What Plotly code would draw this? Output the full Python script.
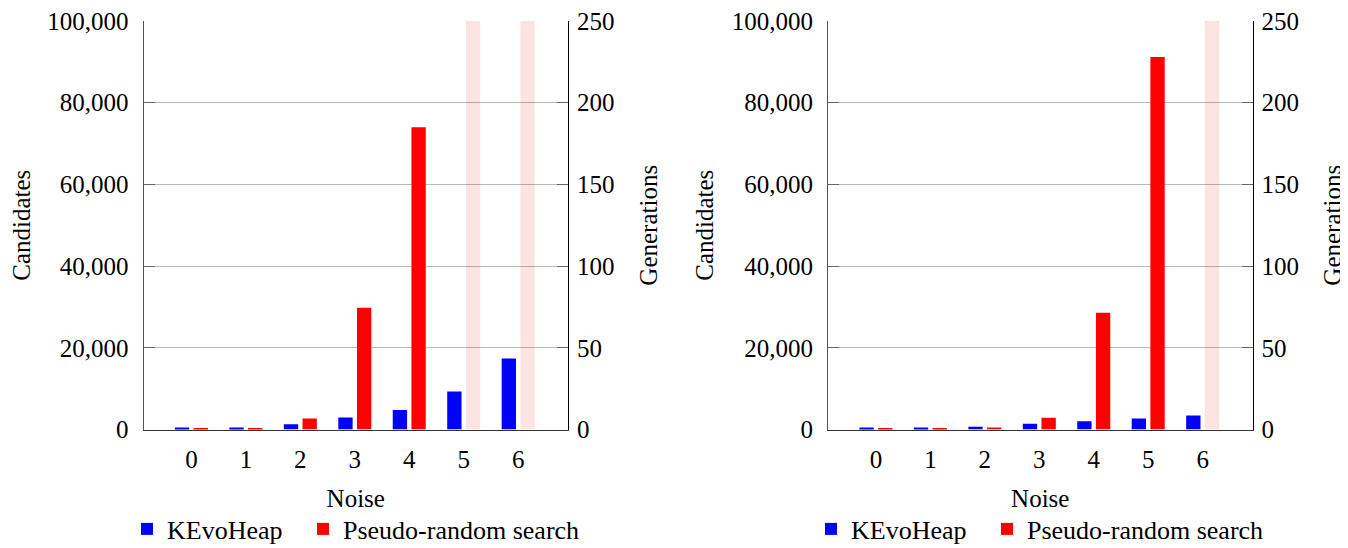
import plotly.graph_objects as go

# ---------------- data ----------------
noise = [0, 1, 2, 3, 4, 5, 6]
noise_labels = ["0", "1", "2", "3", "4", "5", "6"]

# left panel
kevo_generations_a = [1.2, 1.2, 3.2, 7.3, 12.0, 23.2, 43.4]
prs_candidates_a = [300, 300, 2700, 29800, 74000, None, None]
# right panel
kevo_generations_b = [1.2, 1.2, 1.65, 3.5, 5.1, 6.7, 8.6]
prs_candidates_b = [250, 250, 500, 2900, 28600, 91200, None]

cand_max = 100000
gen_max = 250
cand_ticks = [0, 20000, 40000, 60000, 80000, 100000]
gen_ticks = [0, 50, 100, 150, 200, 250]

series_names = ["KEvoHeap", "Pseudo-random search"]

# ---------------- style ----------------
FONT = "Liberation Serif, Times New Roman, DejaVu Serif, serif"
FS = 25
BLUE = "#0000ff"
RED = "#ff0000"
BAND = "rgba(245,0,0,0.11)"
BAR_W = 0.263
BLUE_OFF = -0.303
RED_OFF = 0.040

# page body has an 8px margin; the figure starts at (8, 8)
PAD = 8
W, H = 1340, 540

def px_x(v):
    return (v - PAD) / W

def px_y(v):
    return (H - (v - PAD)) / H

dom1 = [px_x(143.5), px_x(568.0)]
dom2 = [px_x(828.0), px_x(1252.5)]
ydom = [px_y(429.5), px_y(21.0)]

fig = go.Figure()

panels = [
    (kevo_generations_a, prs_candidates_a, "x", "y", "y2", "legend", "legend2"),
    (kevo_generations_b, prs_candidates_b, "x2", "y3", "y4", "legend3", "legend4"),
]

for kevo, prs, xa, ya_c, ya_g, lg_k, lg_p in panels:
    # timeout bands where pseudo-random search has no result
    band_x = [n for n, v in zip(noise, prs) if v is None]
    fig.add_trace(go.Bar(
        x=band_x, y=[cand_max] * len(band_x), xaxis=xa, yaxis=ya_c,
        width=BAR_W, offset=RED_OFF, marker=dict(color=BAND, line=dict(width=0)),
        showlegend=False, hoverinfo="skip"))
    fig.add_trace(go.Bar(
        x=noise, y=prs, xaxis=xa, yaxis=ya_c, name=series_names[1],
        width=BAR_W, offset=RED_OFF, marker=dict(color=RED, line=dict(width=0)),
        legend=lg_p))
    fig.add_trace(go.Bar(
        x=noise, y=kevo, xaxis=xa, yaxis=ya_g, name=series_names[0],
        width=BAR_W, offset=BLUE_OFF, marker=dict(color=BLUE, line=dict(width=0)),
        legend=lg_k))

tfont = dict(family=FONT, size=FS, color="black")
lfont = dict(family=FONT, size=26, color="black")

def xaxis_cfg(dom):
    return dict(
        domain=dom, range=[-0.88, 6.915], tickmode="array",
        tickvals=noise, ticktext=noise_labels, ticks="", showgrid=False,
        zeroline=False, showline=True, linecolor="#333333", linewidth=1,
        tickfont=tfont, ticklabelstandoff=7, ticklabeloverflow="allow",
        title=dict(text="Noise", font=tfont, standoff=17),
        automargin=False, fixedrange=True)

def ycand_cfg(anchor, standoff):
    return dict(
        domain=ydom, anchor=anchor, range=[0, cand_max * 1.00005],
        tickmode="array", tickvals=cand_ticks, tickformat=",",
        ticks="inside", ticklen=11, ticklabelstandoff=9,
        ticklabeloverflow="allow",
        tickcolor="#666666", showgrid=True, gridcolor="#b8b8b8", gridwidth=1,
        zeroline=False, showline=True, linecolor="#555555", linewidth=1,
        tickfont=tfont,
        title=dict(text="Candidates", font=tfont, standoff=standoff),
        automargin=False, fixedrange=True)

def ygen_cfg(anchor, overlay):
    return dict(
        anchor=anchor, overlaying=overlay, side="right",
        range=[0, gen_max * 1.00005],
        tickmode="array", tickvals=gen_ticks, ticks="inside", ticklen=11,
        ticklabelstandoff=3, ticklabeloverflow="allow",
        tickcolor="#666666", showgrid=False, zeroline=False, showline=True,
        linecolor="black", linewidth=1, tickfont=tfont,
        title=dict(text="Generations", font=tfont, standoff=25),
        automargin=False, fixedrange=True)

def legend_cfg(text_start_px):
    return dict(orientation="h", x=px_x(text_start_px - 40), xanchor="left",
                y=px_y(529), yanchor="middle", font=lfont,
                bgcolor="rgba(0,0,0,0)")

fig.update_layout(
    width=W, height=H, margin=dict(l=0, r=0, t=0, b=0, autoexpand=False),
    paper_bgcolor="white", plot_bgcolor="white",
    barmode="overlay", font=dict(family=FONT, size=FS, color="black"),
    xaxis=xaxis_cfg(dom1), xaxis2=xaxis_cfg(dom2),
    yaxis=ycand_cfg("x", 30), yaxis2=ygen_cfg("x", "y"),
    yaxis3=ycand_cfg("x2", 11), yaxis4=ygen_cfg("x2", "y3"),
    legend=legend_cfg(167), legend2=legend_cfg(343),
    legend3=legend_cfg(851), legend4=legend_cfg(1027),
    showlegend=True,
)

fig.write_html("out.html")
